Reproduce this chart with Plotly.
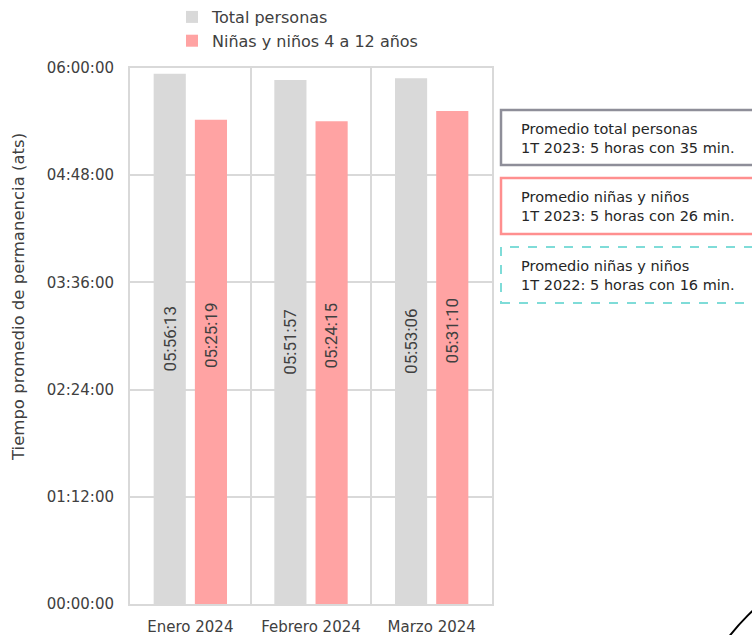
import plotly.graph_objects as go

# Monthly average length of stay (h:m:s)
months = ["Enero 2024", "Febrero 2024", "Marzo 2024"]
total_hms = ["05:56:13", "05:51:57", "05:53:06"]
kids_hms = ["05:25:19", "05:24:15", "05:31:10"]
tick_labels = ["00:00:00", "01:12:00", "02:24:00", "03:36:00", "04:48:00", "06:00:00"]

series_names = ["Total personas", "Niñas y niños 4 a 12 años"]
box_texts = [
    "Promedio total personas<br>1T 2023: 5 horas con 35 min.",
    "Promedio niñas y niños<br>1T 2023: 5 horas con 26 min.",
    "Promedio niñas y niños<br>1T 2022: 5 horas con 16 min.",
]


def to_sec(s):
    h, m, x = (int(p) for p in s.split(":"))
    return h * 3600 + m * 60 + x


total_sec = [to_sec(s) for s in total_hms]
kids_sec = [to_sec(s) for s in kids_hms]
tick_vals = [to_sec(s) for s in tick_labels]

FONT = "DejaVu Sans"
LABEL_FONT = "Roboto"
TXT = "#404040"
GRID = "#d9d9d9"
W, H = 752, 635
L, R, T, B = 130, 492, 68, 604  # plot area in pixels


def px(xp):
    return (xp - L) / (R - L)


def py(yp):
    return (B - yp) / (B - T)


fig = go.Figure()
fig.add_trace(go.Bar(
    x=months, y=total_sec, name=series_names[0],
    marker=dict(color="#d9d9d9", line=dict(width=0)),
    text=total_hms, textposition="inside", insidetextanchor="middle",
    textangle=-90, textfont=dict(family=LABEL_FONT, size=17, color=TXT),
    hoverinfo="skip",
))
fig.add_trace(go.Bar(
    x=months, y=kids_sec, name=series_names[1],
    marker=dict(color="#ffa3a3", line=dict(width=0)),
    hoverinfo="skip",
))

annotations = []
# value labels for the children's bars, placed in the upper part of each bar
for m, v, s in zip(months, kids_sec, kids_hms):
    annotations.append(dict(
        x=m, y=v * 0.555, xref="x", yref="y", xshift=20.5,
        xanchor="center", yanchor="middle",
        text=s, textangle=-90, showarrow=False,
        font=dict(family=LABEL_FONT, size=17, color=TXT),
    ))

# y-axis title
annotations.append(dict(
    x=px(18), y=py(297), xref="paper", yref="paper",
    xanchor="center", yanchor="middle",
    text="Tiempo promedio de permanencia (ats)", textangle=-90,
    showarrow=False, font=dict(family=FONT, size=16.5, color=TXT),
))

# side notes with reference averages
box_rows = [(110, 165), (178, 234), (247, 303)]
box_lines = [
    dict(color="#8e8e99", width=2.5),
    dict(color="#ff8f8f", width=2.5),
    dict(color="#7fdcd8", width=2, dash="dash"),
]
shapes = []
for (top, bot), line, txt in zip(box_rows, box_lines, box_texts):
    shapes.append(dict(
        type="rect", xref="paper", yref="paper",
        x0=px(501), x1=px(770), y0=py(bot), y1=py(top),
        line=line, fillcolor="rgba(0,0,0,0)", layer="above",
    ))
    annotations.append(dict(
        x=px(519), y=py((top + bot) / 2 + 0.5), xref="paper", yref="paper",
        xanchor="left", yanchor="middle", align="left",
        text=txt, showarrow=False,
        font=dict(family=FONT, size=14.5, color="#262626"),
    ))

# decorative arc in the lower right corner
cx, cy, r = 906, 774, 224
shapes.append(dict(
    type="circle", xref="paper", yref="paper",
    x0=px(cx - r), x1=px(cx + r), y0=py(cy + r), y1=py(cy - r),
    line=dict(color="black", width=2), layer="above",
))

fig.update_layout(
    width=W, height=H, autosize=False,
    margin=dict(l=L, r=W - R, t=T, b=H - B, autoexpand=False),
    paper_bgcolor="white", plot_bgcolor="white",
    barmode="group", bargap=0.317, bargroupgap=0.22,
    font=dict(family=FONT, size=15, color=TXT),
    showlegend=True,
    legend=dict(
        x=px(172), y=py(0), xanchor="left", yanchor="top",
        orientation="v", itemwidth=30,
        font=dict(family=FONT, size=16, color=TXT),
        bgcolor="rgba(0,0,0,0)",
    ),
    xaxis=dict(
        type="category", tickson="boundaries",
        showgrid=True, gridcolor=GRID, gridwidth=2,
        showline=True, linecolor=GRID, linewidth=2, mirror=True,
        ticks="", automargin=False, ticklabelstandoff=8,
        tickfont=dict(family=FONT, size=15, color=TXT),
    ),
    yaxis=dict(
        range=[0, tick_vals[-1]], tickvals=tick_vals, ticktext=tick_labels,
        showgrid=True, gridcolor=GRID, gridwidth=2,
        showline=True, linecolor=GRID, linewidth=2, mirror=True,
        zeroline=False, ticks="", automargin=False, ticklabelstandoff=11,
        tickfont=dict(family=FONT, size=15, color=TXT),
    ),
    shapes=shapes,
    annotations=annotations,
)

fig.write_html("out.html")
